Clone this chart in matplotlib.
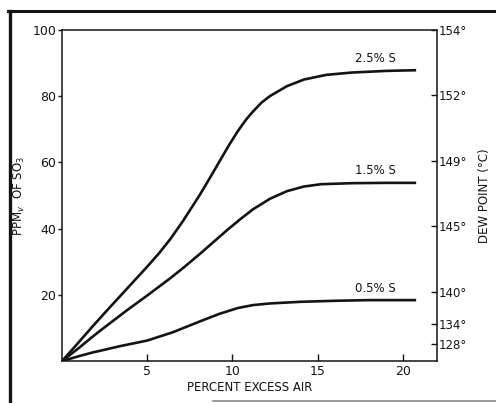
import matplotlib
matplotlib.use('Agg')
import matplotlib.pyplot as plt
from matplotlib.lines import Line2D

# Curves: percent excess air vs PPMv of SO3
x_25 = [0, 1, 1.8, 2.5, 3.8, 5, 5.7, 6.35, 7.1, 8.1, 8.7, 9.3, 9.8, 10.3, 10.8, 11.2, 11.7, 12.2, 13.2, 14.2, 15.5, 17, 19, 20.7]
y_25 = [0, 5.8, 10.5, 14.5, 21.8, 28.5, 32.6, 36.8, 42.3, 50.3, 55.5, 60.8, 65.2, 69.3, 72.9, 75.3, 78, 80, 83, 85, 86.4, 87.1, 87.6, 87.8]

x_15 = [0, 1, 1.8, 2.5, 3.8, 5, 6.35, 7.2, 8.1, 8.9, 9.7, 10.5, 11.2, 12.2, 13.2, 14.2, 15.2, 17, 19, 20.7]
y_15 = [0, 4.0, 7.4, 10.2, 15.3, 19.8, 25, 28.5, 32.4, 36, 39.6, 43, 45.8, 49, 51.3, 52.7, 53.4, 53.7, 53.8, 53.8]

x_05 = [0, 1, 1.8, 3.4, 5, 6.5, 8.1, 9.2, 10.3, 11.2, 12.2, 14, 16, 18, 20.7]
y_05 = [0, 1.5, 2.6, 4.5, 6.2, 8.7, 12, 14.2, 16, 16.9, 17.4, 17.9, 18.2, 18.4, 18.4]

curve_labels = ['2.5% S', '1.5% S', '0.5% S']
label_y = [89.5, 55.5, 20.0]

# Dew point scale on the right: position in PPM units and label
dew_pos = [100.3, 80.7, 60.5, 41.0, 20.8, 11.1, 5.1]
dew_lbl = ['154°', '152°', '149°', '145°', '140°', '134°', '128°']

x_ticks = [5, 10, 15, 20]
y_ticks = [20, 40, 60, 80, 100]

ink = '#141414'
plt.rcParams['font.family'] = 'DejaVu Sans'

fig = plt.figure(figsize=(4.96, 4.03), dpi=100)
ax = fig.add_axes([0.125, 0.104, 0.756, 0.822])

for xs, ys in [(x_25, y_25), (x_15, y_15), (x_05, y_05)]:
    ax.plot(xs, ys, color=ink, lw=1.9, solid_joinstyle='round')

for lbl, ly in zip(curve_labels, label_y):
    ax.text(18.4, ly, lbl, fontsize=8.5, color=ink, ha='center', va='bottom')

ax.set_xlim(0, 22)
ax.set_ylim(0, 100)
ax.set_xticks(x_ticks)
ax.set_xticklabels([str(t) for t in x_ticks])
ax.set_yticks(y_ticks)
ax.set_yticklabels([str(t) for t in y_ticks])
ax.tick_params(axis='x', direction='in', length=5, width=1, colors=ink, labelsize=9, pad=3)
ax.tick_params(axis='y', direction='out', length=3, width=1, colors=ink, labelsize=9, pad=1)
for s in ax.spines.values():
    s.set_color(ink)
    s.set_linewidth(1.1)

ax.set_xlabel('PERCENT EXCESS AIR', fontsize=8.5, color=ink, labelpad=2)
ax.set_ylabel('PPM$_v$  OF SO$_3$', fontsize=8.5, color=ink, labelpad=4)

ax2 = ax.twinx()
ax2.set_ylim(0, 100)
ax2.set_yticks(dew_pos)
ax2.set_yticklabels(dew_lbl)
ax2.tick_params(axis='y', direction='in', length=4, width=1, colors=ink, labelsize=8.5, pad=1)
for s in ax2.spines.values():
    s.set_visible(False)
ax2.set_ylabel('DEW POINT (°C)', fontsize=8.5, color=ink, labelpad=8)

# scanned page border
fig.add_artist(Line2D([0.016, 1.0], [0.972, 0.972], transform=fig.transFigure, color=ink, lw=2.2))
fig.add_artist(Line2D([0.02, 0.02], [0.972, 0.0], transform=fig.transFigure, color=ink, lw=2.4))
fig.add_artist(Line2D([0.43, 1.0], [0.004, 0.004], transform=fig.transFigure, color='#888888', lw=1.2))

fig.savefig('out.png', dpi=100, facecolor='white')
